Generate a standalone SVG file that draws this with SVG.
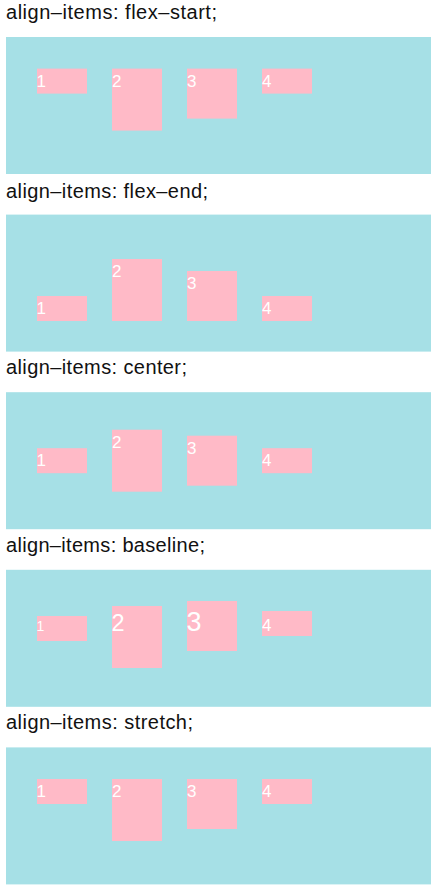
<svg xmlns="http://www.w3.org/2000/svg" width="436" height="889" viewBox="0 0 436 889">
<style>
.bg{fill:#ffffff}
.title{font-family:"Liberation Sans",Arial,sans-serif;font-size:20px;fill:#111111}
.panel{fill:#a6e0e6}
.box{fill:#ffbac7}
.lbl{font-family:"Liberation Sans",Arial,sans-serif;font-size:17px;fill:#ffffff}
</style>
<rect class="bg" x="0" y="0" width="436" height="889"/>

<g id="flex-start">
<text class="title" x="6" y="19" textLength="211" lengthAdjust="spacing">align–items: flex–start;</text>
<rect class="panel" x="6" y="37" width="425" height="137"/>
<g id="fs-1"><rect class="box" x="37" y="68.6" width="50" height="25"/><text class="lbl" x="36.5" y="86.6">1</text></g>
<g id="fs-2"><rect class="box" x="112" y="68.6" width="50" height="62"/><text class="lbl" x="112" y="86.6">2</text></g>
<g id="fs-3"><rect class="box" x="187" y="68.6" width="50" height="50"/><text class="lbl" x="187" y="86.6">3</text></g>
<g id="fs-4"><rect class="box" x="262" y="68.6" width="50" height="25"/><text class="lbl" x="262" y="86.6">4</text></g>
</g>

<g id="flex-end">
<text class="title" x="6" y="198" textLength="202" lengthAdjust="spacing">align–items: flex–end;</text>
<rect class="panel" x="6" y="214.6" width="425" height="137"/>
<g id="fe-1"><rect class="box" x="37" y="296" width="50" height="25"/><text class="lbl" x="36.5" y="314">1</text></g>
<g id="fe-2"><rect class="box" x="112" y="259" width="50" height="62"/><text class="lbl" x="112" y="277">2</text></g>
<g id="fe-3"><rect class="box" x="187" y="271" width="50" height="50"/><text class="lbl" x="187" y="289">3</text></g>
<g id="fe-4"><rect class="box" x="262" y="296" width="50" height="25"/><text class="lbl" x="262" y="314">4</text></g>
</g>

<g id="center">
<text class="title" x="6" y="374" textLength="181" lengthAdjust="spacing">align–items: center;</text>
<rect class="panel" x="6" y="392.2" width="425" height="137"/>
<g id="c-1"><rect class="box" x="37" y="448.2" width="50" height="25"/><text class="lbl" x="36.5" y="466.2">1</text></g>
<g id="c-2"><rect class="box" x="112" y="429.7" width="50" height="62"/><text class="lbl" x="112" y="447.7">2</text></g>
<g id="c-3"><rect class="box" x="187" y="435.7" width="50" height="50"/><text class="lbl" x="187" y="453.7">3</text></g>
<g id="c-4"><rect class="box" x="262" y="448.2" width="50" height="25"/><text class="lbl" x="262" y="466.2">4</text></g>
</g>

<g id="baseline">
<text class="title" x="6" y="551.7" textLength="199" lengthAdjust="spacing">align–items: baseline;</text>
<rect class="panel" x="6" y="569.8" width="425" height="137"/>
<g id="b-1"><rect class="box" x="37" y="616" width="50" height="25"/><text class="lbl" x="36.5" y="631" style="font-size:14px">1</text></g>
<g id="b-2"><rect class="box" x="112" y="606" width="50" height="62"/><text class="lbl" x="111.5" y="631" style="font-size:23.5px">2</text></g>
<g id="b-3"><rect class="box" x="187" y="601" width="50" height="50"/><text class="lbl" x="186.5" y="631" style="font-size:27px">3</text></g>
<g id="b-4"><rect class="box" x="262" y="611" width="50" height="25"/><text class="lbl" x="262" y="631">4</text></g>
</g>

<g id="stretch">
<text class="title" x="6" y="729" textLength="187" lengthAdjust="spacing">align–items: stretch;</text>
<rect class="panel" x="6" y="747.4" width="425" height="137"/>
<g id="s-1"><rect class="box" x="37" y="779" width="50" height="25"/><text class="lbl" x="36.5" y="797">1</text></g>
<g id="s-2"><rect class="box" x="112" y="779" width="50" height="62"/><text class="lbl" x="112" y="797">2</text></g>
<g id="s-3"><rect class="box" x="187" y="779" width="50" height="50"/><text class="lbl" x="187" y="797">3</text></g>
<g id="s-4"><rect class="box" x="262" y="779" width="50" height="25"/><text class="lbl" x="262" y="797">4</text></g>
</g>

<g id="connectors"/>
</svg>
